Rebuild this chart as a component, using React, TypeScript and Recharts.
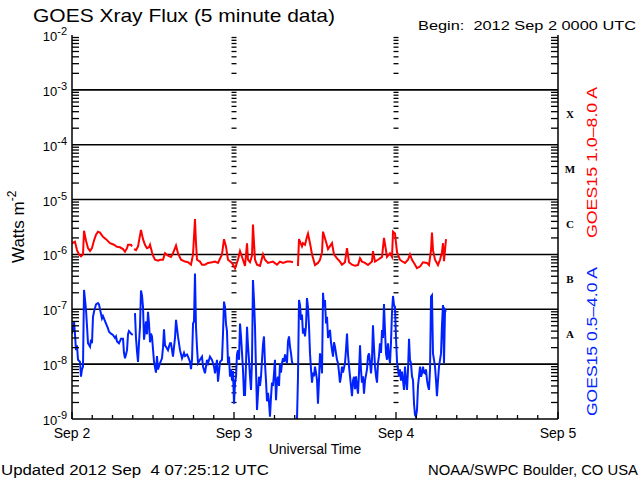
import { LineChart, Line, XAxis, YAxis, ReferenceLine } from 'recharts';

// GOES15 1.0-8.0 A channel, [hours since 2012 Sep 2 00:00 UTC, W/m^2], null = data gap
const longFlux: [number, number | null][] = [
  [0, 1.6e-6], [0.44, 1.7e-6], [0.74, 1.2e-6], [1.04, 1.0e-6], [1.33, 0.92e-6], [1.63, 1.0e-6], [1.78, 2.7e-6],
  [2.07, 1.8e-6], [2.37, 1.3e-6], [2.67, 1.15e-6], [2.96, 1.3e-6], [3.26, 1.8e-6], [3.56, 2.3e-6], [3.85, 2.6e-6],
  [4.15, 2.5e-6], [4.59, 2.1e-6], [5.04, 1.9e-6], [5.63, 1.6e-6], [6.22, 1.5e-6], [6.67, 1.38e-6], [7.11, 1.35e-6],
  [7.56, 1.25e-6], [7.85, 1.12e-6], [8.15, 1.3e-6], [8.3, 1.5e-6], [8.74, 1.5e-6], [8.89, 1.4e-6], [9.05, null],
  [9.19, 1.25e-6], [9.48, 1.2e-6], [9.78, 1.4e-6], [10.07, 2.2e-6], [10.22, 2.8e-6], [10.52, 1.9e-6], [10.81, 1.5e-6],
  [11.11, 1.3e-6], [11.41, 1.35e-6], [11.56, 1.5e-6], [11.85, 1.1e-6], [12.0, 0.95e-6], [12.3, 0.8e-6], [12.74, 0.77e-6],
  [13.04, 0.8e-6], [13.48, 0.8e-6], [13.78, 1.05e-6], [14.22, 0.95e-6], [14.67, 0.9e-6], [14.96, 1.05e-6], [15.41, 1.45e-6],
  [15.7, 1.05e-6], [16.15, 0.8e-6], [16.74, 0.74e-6], [17.19, 0.72e-6], [17.63, 0.65e-6], [17.93, 1.0e-6], [18.22, 4.4e-6],
  [18.37, 1.6e-6], [18.52, 0.8e-6], [18.96, 0.74e-6], [19.26, 0.65e-6], [19.7, 0.65e-6], [20.15, 0.7e-6], [20.74, 0.72e-6],
  [21.19, 0.74e-6], [21.63, 0.7e-6], [22.22, 1.0e-6], [22.52, 1.9e-6], [22.81, 1.4e-6], [23.11, 0.8e-6], [23.7, 0.7e-6],
  [24.15, 0.56e-6], [24.59, 0.8e-6], [24.89, 1.15e-6], [25.33, 0.8e-6], [25.63, 0.62e-6], [25.93, 1.6e-6], [26.07, 0.8e-6],
  [26.37, 0.72e-6], [26.67, 0.95e-6], [26.81, 3.5e-6], [27.11, 0.8e-6], [27.41, 0.65e-6], [27.85, 0.62e-6], [28.3, 1.0e-6],
  [28.59, 0.8e-6], [29.04, 0.7e-6], [29.78, 0.74e-6], [30.37, 0.65e-6], [30.81, 0.74e-6], [31.26, 0.7e-6], [31.85, 0.74e-6],
  [32.3, 0.74e-6], [32.74, 0.72e-6], [33.0, null], [33.33, 0.64e-6], [33.48, 0.64e-6], [33.63, 1.9e-6], [34.07, 1.4e-6],
  [34.22, 1.6e-6], [34.52, 1.5e-6], [34.81, 2.1e-6], [34.96, 2.4e-6], [35.26, 1.6e-6], [35.56, 1.0e-6], [36.0, 0.64e-6],
  [36.44, 0.7e-6], [36.74, 0.8e-6], [37.04, 1.1e-6], [37.19, 2.6e-6], [37.63, 1.7e-6], [37.93, 1.25e-6], [38.52, 1.6e-6],
  [38.81, 1.0e-6], [39.26, 0.85e-6], [39.7, 0.74e-6], [40.0, 0.65e-6], [40.44, 0.72e-6], [40.74, 1.3e-6], [41.04, 0.72e-6],
  [41.48, 0.65e-6], [41.93, 0.62e-6], [42.37, 0.64e-6], [42.67, 0.85e-6], [42.96, 0.74e-6], [43.41, 0.7e-6], [43.85, 0.64e-6],
  [44.44, 0.74e-6], [44.59, 1.15e-6], [44.89, 0.74e-6], [45.33, 0.8e-6], [45.93, 0.9e-6], [46.22, 2.0e-6], [46.67, 0.9e-6],
  [47.11, 1.05e-6], [47.41, 0.9e-6], [47.56, 2.6e-6], [47.85, 2.4e-6], [48.15, 1.1e-6], [48.59, 0.8e-6], [48.89, 0.75e-6],
  [49.33, 0.7e-6], [49.78, 0.8e-6], [50.07, 1.0e-6], [50.37, 0.8e-6], [50.67, 0.7e-6], [51.11, 0.56e-6], [51.56, 0.6e-6],
  [52.0, 0.72e-6], [52.59, 0.7e-6], [52.89, 0.64e-6], [53.19, 1.2e-6], [53.33, 2.5e-6], [53.48, 1.2e-6], [53.78, 0.8e-6],
  [54.22, 0.64e-6], [54.52, 0.8e-6], [54.81, 1.1e-6], [54.96, 1.6e-6], [55.11, 0.75e-6], [55.41, 1.9e-6],
];

// GOES15 0.5-4.0 A channel
const shortFlux: [number, number | null][] = [
  [0, 3.6e-8], [0.15, 4.8e-8], [0.3, 5.9e-8], [0.44, 3.6e-8], [0.59, 1.8e-8], [0.74, 2.2e-8], [0.89, 1.2e-8],
  [1.19, 1.1e-8], [1.33, 5.9e-9], [1.48, 8e-9], [1.63, 9e-9], [1.78, 2.25e-7], [1.93, 1.5e-7], [2.07, 1.0e-7],
  [2.22, 5e-8], [2.37, 2.4e-8], [2.67, 2.07e-8], [2.81, 2.8e-8], [2.96, 2.4e-8], [3.11, 7.3e-8], [3.26, 9e-8],
  [3.56, 1.23e-7], [3.85, 1.3e-7], [4.0, 1.23e-7], [4.15, 1.0e-7], [4.44, 6.8e-8], [4.59, 7.5e-8], [5.04, 5.5e-8],
  [5.33, 4.5e-8], [5.48, 3.9e-8], [5.78, 3.6e-8], [6.07, 3.4e-8], [6.37, 3.0e-8], [6.52, 3.2e-8], [6.67, 2.6e-8],
  [6.96, 2.4e-8], [7.26, 2.9e-8], [7.56, 2.9e-8], [7.7, 1.6e-8], [7.85, 1.28e-8], [8.0, 1.5e-8], [8.15, 1.8e-8],
  [8.3, 3.5e-8], [8.44, 4e-8], [8.74, 3.6e-8], [9.0, 3.4e-8], [9.1, null], [9.33, 8.5e-8], [9.48, 3e-8],
  [9.63, 1.7e-8], [9.78, 1.1e-8], [9.93, 2.5e-8], [10.07, 4.7e-8], [10.22, 2.2e-7], [10.37, 1.8e-7], [10.52, 1.1e-7],
  [10.67, 2.8e-8], [10.81, 4e-8], [10.96, 6e-8], [11.11, 3.5e-8], [11.26, 9e-8], [11.41, 5.5e-8], [11.56, 2.5e-8],
  [11.7, 3.6e-8], [11.85, 3.2e-8], [12.15, 1.1e-8], [12.44, 7e-9], [12.59, 1.4e-8], [12.74, 8e-9], [13.04, 1.04e-8],
  [13.33, 1.28e-8], [13.48, 2e-8], [13.63, 4.3e-8], [13.78, 2.2e-8], [13.93, 2.07e-8], [14.22, 1.8e-8], [14.52, 2.4e-8],
  [14.67, 2.4e-8], [14.96, 1.37e-8], [15.26, 3e-8], [15.41, 6.4e-8], [15.56, 4.5e-8], [15.7, 3.2e-8], [16.0, 1.8e-8],
  [16.3, 1.28e-8], [16.59, 1.6e-8], [16.74, 1.4e-8], [17.04, 1.5e-8], [17.19, 1.37e-8], [17.48, 1.1e-8], [17.63, 8.1e-9],
  [17.78, 1.2e-8], [17.93, 5.5e-8], [18.07, 6e-8], [18.22, 4.5e-7], [18.37, 4.8e-8], [18.52, 2e-8], [18.67, 1.04e-8],
  [18.96, 1.2e-8], [19.26, 1.37e-8], [19.41, 9e-9], [19.7, 6.8e-9], [20.0, 1.2e-8], [20.15, 1.04e-8], [20.44, 1.37e-8],
  [20.74, 1.2e-8], [21.04, 9e-9], [21.19, 6.8e-9], [21.48, 1.2e-8], [21.63, 4.8e-9], [21.93, 1.1e-8], [22.22, 1.2e-8],
  [22.37, 3.6e-8], [22.52, 1.38e-7], [22.67, 1.1e-7], [22.81, 5.5e-8], [22.96, 4e-8], [23.11, 1.04e-8], [23.26, 1.37e-8],
  [23.41, 5.9e-9], [23.56, 8e-9], [23.7, 5.1e-9], [23.85, 7.5e-9], [24.0, 1.9e-9], [24.15, 4.5e-9], [24.3, 5.9e-9],
  [24.44, 1.5e-8], [24.59, 1.8e-8], [24.74, 1.2e-8], [24.89, 5.5e-8], [25.04, 3.2e-8], [25.19, 1.57e-8], [25.33, 8e-9],
  [25.48, 2.75e-9], [25.63, 2.75e-9], [25.78, 1e-8], [25.93, 4.8e-8], [26.07, 2.2e-8], [26.22, 1.2e-8], [26.37, 6e-9],
  [26.52, 3.4e-9], [26.67, 1.2e-8], [26.81, 3.4e-7], [26.96, 1.5e-7], [27.11, 4.8e-8], [27.26, 8e-9], [27.41, 1.46e-9],
  [27.56, 3e-9], [27.7, 5.9e-9], [27.85, 4e-9], [28.0, 5.9e-9], [28.15, 1.2e-8], [28.3, 2.3e-8], [28.44, 3.2e-8],
  [28.59, 1.04e-8], [28.74, 5e-9], [28.89, 2.1e-9], [29.04, 3e-9], [29.19, 2e-9], [29.33, 1.1e-9], [29.48, 2.5e-9],
  [29.63, 4.6e-9], [29.78, 4e-9], [29.93, 6.8e-9], [30.07, 1.2e-8], [30.22, 2.2e-9], [30.37, 5e-9], [30.52, 5.9e-9],
  [30.67, 4e-9], [30.81, 1e-8], [30.96, 7e-9], [31.11, 1.04e-8], [31.26, 1.28e-8], [31.41, 1.1e-8], [31.56, 1.5e-8],
  [31.7, 1.2e-8], [31.85, 1.04e-8], [32.0, 2.6e-8], [32.15, 3.2e-8], [32.3, 2.07e-8], [32.44, 1.6e-8], [32.59, 1.1e-8],
  [32.74, 1.0e-8], [33.0, null], [33.33, 0.95e-9], [33.48, 5.9e-9], [33.63, 1.48e-7], [33.78, 1.2e-7], [33.93, 6.4e-8],
  [34.07, 8e-8], [34.22, 3.6e-8], [34.37, 4.5e-8], [34.52, 3.2e-8], [34.67, 5e-8], [34.81, 1.6e-7], [34.96, 1.1e-7],
  [35.11, 5e-8], [35.26, 1.57e-8], [35.41, 8e-9], [35.56, 4.6e-9], [35.7, 7e-9], [35.85, 6e-9], [36.0, 9e-9],
  [36.15, 7e-9], [36.3, 5.1e-9], [36.44, 1.9e-9], [36.59, 5e-9], [36.74, 1.57e-8], [36.89, 1.2e-8], [37.04, 6.8e-9],
  [37.19, 2e-7], [37.33, 1.1e-7], [37.48, 1.48e-7], [37.63, 5.5e-8], [37.78, 7.3e-8], [37.93, 3e-8], [38.22, 4.2e-8],
  [38.37, 2.5e-8], [38.52, 1.8e-8], [38.67, 1.37e-8], [38.81, 2.5e-8], [38.96, 2.07e-8], [39.26, 1.2e-8], [39.41, 1.04e-8],
  [39.56, 7e-9], [39.7, 4.6e-9], [39.85, 6e-9], [40.0, 9e-9], [40.15, 7e-9], [40.44, 1.04e-8], [40.59, 1.8e-8],
  [40.74, 3.6e-8], [40.89, 1.5e-8], [41.04, 9e-9], [41.19, 6e-9], [41.33, 4e-9], [41.48, 2.6e-9], [41.63, 5e-9],
  [41.78, 5.9e-9], [41.93, 3.5e-9], [42.07, 6e-9], [42.22, 4e-9], [42.37, 2.9e-9], [42.52, 7e-9], [42.67, 2.2e-8],
  [42.81, 8e-9], [42.96, 4.6e-9], [43.11, 6e-9], [43.26, 2.9e-9], [43.41, 5e-9], [43.7, 8e-9], [43.85, 1.4e-8],
  [44.0, 1.57e-8], [44.15, 1.1e-8], [44.3, 6.8e-9], [44.44, 1.2e-8], [44.59, 5.1e-8], [44.74, 2e-8], [44.89, 9e-9],
  [45.04, 6e-9], [45.19, 4.6e-9], [45.33, 1.04e-8], [45.48, 1.4e-8], [45.63, 2.4e-8], [45.78, 1.6e-8], [45.93, 4.2e-8],
  [46.07, 3e-8], [46.22, 1.25e-7], [46.37, 4e-8], [46.52, 1.57e-8], [46.67, 1.2e-8], [46.81, 2.4e-8], [46.96, 1.4e-8],
  [47.11, 1.04e-8], [47.26, 2.5e-8], [47.41, 9e-8], [47.56, 1.75e-7], [47.7, 1.2e-7], [47.85, 1.1e-7], [48.0, 3e-8],
  [48.15, 1.1e-8], [48.3, 8e-9], [48.44, 5.9e-9], [48.59, 8e-9], [48.74, 5e-9], [48.89, 7.3e-9], [49.04, 5e-9],
  [49.19, 3.4e-9], [49.33, 9e-9], [49.48, 5e-9], [49.63, 3.4e-9], [49.78, 8e-9], [49.93, 2.9e-8], [50.07, 1.2e-8],
  [50.22, 1.04e-8], [50.37, 6e-9], [50.52, 5.1e-9], [50.67, 1.9e-9], [50.81, 1.2e-9], [50.96, 1.1e-9], [51.11, 1.46e-9],
  [51.26, 4e-9], [51.41, 6e-9], [51.56, 9e-9], [51.7, 5.9e-9], [51.85, 6.8e-9], [52.0, 9e-9], [52.15, 7e-9],
  [52.3, 6.8e-9], [52.44, 8e-9], [52.59, 5.1e-9], [52.74, 4e-9], [52.89, 3.4e-9], [53.04, 8e-9], [53.19, 1.7e-7],
  [53.33, 1.8e-7], [53.48, 1.57e-8], [53.63, 1.2e-8], [53.78, 9e-9], [53.93, 5e-9], [54.07, 2.6e-9], [54.22, 5e-9],
  [54.37, 9e-9], [54.52, 1.2e-8], [54.67, 1.57e-8], [54.81, 5.1e-8], [54.96, 1.2e-7], [55.11, 1.04e-8], [55.26, 9.7e-8],
  [55.41, 9e-8],
];

const dayLabels = ['Sep 2', 'Sep 3', 'Sep 4', 'Sep 5'];
const hourTicks = [0, 3, 6, 9, 12, 15, 18, 21, 24, 27, 30, 33, 36, 39, 42, 45, 48, 51, 54, 57, 60, 63, 66, 69, 72];
const dayBoundaries = [24, 48];
const decadeExponents = [-9, -8, -7, -6, -5, -4, -3, -2];
const flareClasses = ['A', 'B', 'C', 'M', 'X'];
const minorMultipliers = [2, 3, 4, 5, 6, 7, 8, 9];

const decadeValues = decadeExponents.map((e) => Number(`1e${e}`));
const minorValues = decadeExponents.slice(0, -1).flatMap((e) => minorMultipliers.map((m) => m * Number(`1e${e}`)));
const classValues = flareClasses.map((_, i) => Math.pow(10, -7.5 + i));
const innerDecades = decadeValues.slice(1, -1);

const longData = longFlux.map(([t, v]) => ({ t, v }));
const shortData = shortFlux.map(([t, v]) => ({ t, v }));

const FONT = "'Liberation Sans', Arial, sans-serif";
const DAY_TICK_HALF = 0.37;
const RED = '#ff0000';
const BLUE = '#0022ff';

const isDecade = (v: number) => Math.abs(Math.log10(v) - Math.round(Math.log10(v))) < 1e-6;

const LeftTick = (props: any) => {
  const { x, y, payload } = props;
  const v = payload.value;
  if (!isDecade(v)) return <line x1={x} y1={y} x2={x + 7} y2={y} stroke="#000" strokeWidth={1.3} />;
  const e = Math.round(Math.log10(v));
  return (
    <text x={x - 5} y={y + 6} textAnchor="end" fontFamily={FONT} fontSize={13} fill="#000">
      10<tspan dy={-6} fontSize={11}>{`-${Math.abs(e)}`}</tspan>
    </text>
  );
};

const RightTick = (props: any) => {
  const { x, y, payload } = props;
  const v = payload.value;
  const ci = classValues.findIndex((c) => Math.abs(c - v) / c < 1e-6);
  if (ci >= 0) {
    return (
      <text x={x + 12} y={y + 1} textAnchor="middle" fontFamily="'Liberation Serif', serif" fontWeight="bold" fontSize={11} fill="#000">
        {flareClasses[ci]}
      </text>
    );
  }
  return <line x1={x - 7} y1={y} x2={x} y2={y} stroke="#000" strokeWidth={1.3} />;
};

const BottomTick = (props: any) => {
  const { x, y, payload } = props;
  const t = payload.value;
  const day = t % 24 === 0;
  return (
    <g>
      <line x1={x} y1={y} x2={x} y2={y - (day ? 7 : 4)} stroke="#000" strokeWidth={1.3} />
      {day && (
        <text x={x} y={y + 19} textAnchor="middle" fontFamily={FONT} fontSize={14} fill="#000">
          {dayLabels[t / 24]}
        </text>
      )}
    </g>
  );
};

const TopTick = (props: any) => {
  const { x, y, payload } = props;
  const day = payload.value % 24 === 0;
  return <line x1={x} y1={y} x2={x} y2={y + (day ? 7 : 4)} stroke="#000" strokeWidth={1.3} />;
};

const pre = { whiteSpace: 'pre' as const };

export default function App() {
  return (
    <div style={{ position: 'absolute', left: 0, top: 0, width: 640, height: 480, background: '#fff' }}>
      <LineChart width={640} height={480} margin={{ top: 35, right: 0, bottom: 0, left: 0 }}>
        <XAxis
          xAxisId="b"
          type="number"
          dataKey="t"
          domain={[0, 72]}
          ticks={hourTicks}
          interval={0}
          height={61}
          tickSize={0}
          tickMargin={0}
          tickLine={false}
          tick={(p: any) => <BottomTick {...p} />}
          axisLine={{ stroke: '#000', strokeWidth: 1.5 }}
          allowDataOverflow
        />
        <XAxis
          xAxisId="t"
          orientation="top"
          type="number"
          dataKey="t"
          domain={[0, 72]}
          ticks={hourTicks}
          interval={0}
          height={0}
          tickSize={0}
          tickMargin={0}
          tickLine={false}
          tick={(p: any) => <TopTick {...p} />}
          axisLine={{ stroke: '#000', strokeWidth: 1.5 }}
          allowDataOverflow
        />
        <YAxis
          yAxisId="l"
          orientation="left"
          width={72}
          scale="log"
          type="number"
          domain={[1e-9, 1e-2]}
          ticks={[...decadeValues, ...minorValues]}
          interval={0}
          tickSize={0}
          tickMargin={0}
          tickLine={false}
          tick={(p: any) => <LeftTick {...p} />}
          axisLine={{ stroke: '#000', strokeWidth: 1.5 }}
          allowDataOverflow
        />
        <YAxis
          yAxisId="r"
          orientation="right"
          width={82}
          scale="log"
          type="number"
          domain={[1e-9, 1e-2]}
          ticks={[...minorValues, ...classValues]}
          interval={0}
          tickSize={0}
          tickMargin={0}
          tickLine={false}
          tick={(p: any) => <RightTick {...p} />}
          axisLine={{ stroke: '#000', strokeWidth: 1.5 }}
          allowDataOverflow
        />
        {innerDecades.map((v) => (
          <ReferenceLine key={`g${v}`} xAxisId="b" yAxisId="l" y={v} stroke="#000" strokeWidth={1.6} />
        ))}
        {dayBoundaries.flatMap((d) =>
          minorValues.map((v) => (
            <ReferenceLine
              key={`d${d}-${v}`}
              xAxisId="b"
              yAxisId="l"
              segment={[{ x: d - DAY_TICK_HALF, y: v }, { x: d + DAY_TICK_HALF, y: v }]}
              stroke="#000"
              strokeWidth={1.3}
            />
          ))
        )}
        <Line
          data={longData}
          dataKey="v"
          xAxisId="b"
          yAxisId="l"
          type="linear"
          stroke={RED}
          strokeWidth={2}
          dot={false}
          connectNulls={false}
          isAnimationActive={false}
        />
        <Line
          data={shortData}
          dataKey="v"
          xAxisId="b"
          yAxisId="l"
          type="linear"
          stroke={BLUE}
          strokeWidth={2}
          dot={false}
          connectNulls={false}
          isAnimationActive={false}
        />
      </LineChart>
      <svg width={640} height={480} style={{ position: 'absolute', left: 0, top: 0, pointerEvents: 'none' }}>
        <g fontFamily={FONT} fill="#000">
          <text x={33} y={22} fontSize={19} textLength={302} lengthAdjust="spacingAndGlyphs">
            GOES Xray Flux (5 minute data)
          </text>
          <text x={418} y={30} fontSize={13} textLength={218} lengthAdjust="spacingAndGlyphs" style={pre}>
            {'Begin:  2012 Sep 2 0000 UTC'}
          </text>
          <text x={315} y={454} fontSize={14} textAnchor="middle">
            Universal Time
          </text>
          <text x={1} y={475} fontSize={14} textLength={268} lengthAdjust="spacingAndGlyphs" style={pre}>
            {'Updated 2012 Sep  4 07:25:12 UTC'}
          </text>
          <text x={428} y={475} fontSize={14} textLength={210} lengthAdjust="spacingAndGlyphs">
            NOAA/SWPC Boulder, CO USA
          </text>
          <text transform="translate(24,263) rotate(-90)" fontSize={17}>
            Watts m<tspan dy={-8} fontSize={12}>-2</tspan>
          </text>
          <text transform="translate(597,238) rotate(-90)" fontSize={15} fill={RED} textLength={151} lengthAdjust="spacingAndGlyphs">
            GOES15 1.0–8.0 A
          </text>
          <text transform="translate(597,416) rotate(-90)" fontSize={15} fill={BLUE} textLength={149} lengthAdjust="spacingAndGlyphs">
            GOES15 0.5–4.0 A
          </text>
        </g>
      </svg>
    </div>
  );
}
